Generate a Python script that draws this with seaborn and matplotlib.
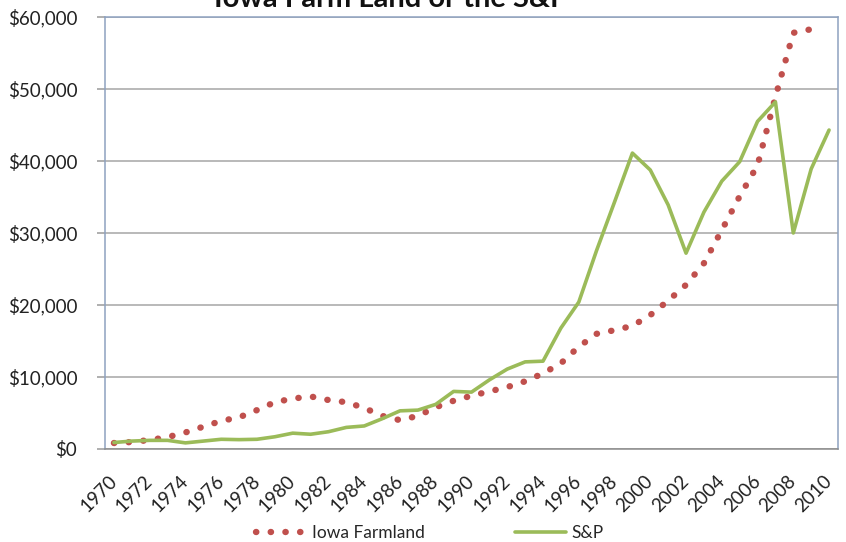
import numpy as np
import pandas as pd
import matplotlib
matplotlib.use("Agg")
import matplotlib.pyplot as plt
import seaborn as sns

# data
years = list(range(1970, 2011))
farmland = [830, 970, 1250, 1650, 2300, 3100, 3900, 4400, 5400, 6500,
            7000, 7300, 6800, 6500, 5700, 4600, 4000, 4600, 5800, 6700,
            7400, 8000, 8600, 9400, 10500, 11900, 14200, 16000, 16500, 17100,
            18600, 20600, 22800, 25800, 30400, 35100, 39400, 48900, 57800, 58300,
            np.nan]
sp500 = [900, 1100, 1200, 1200, 850, 1100, 1350, 1300, 1350, 1700,
         2200, 2050, 2400, 3000, 3200, 4200, 5300, 5400, 6200, 8000,
         7900, 9600, 11100, 12100, 12200, 16800, 20400, 27600, 34300, 41100,
         38750, 33900, 27200, 32900, 37200, 39900, 45500, 48200, 30000, 38900,
         44300]
series_names = ["Iowa Farmland", "S&P"]
title = "Iowa Farm Land or the S&P"


def main():
    df = pd.DataFrame({"year": years, "Iowa Farmland": farmland, "S&P": sp500})

    sns.set_theme(style="white")
    plt.rcParams["font.family"] = ["Lato", "DejaVu Sans"]

    fig = plt.figure(figsize=(8.46, 5.42), dpi=100)
    ax = fig.add_axes([105 / 846, 1 - 449 / 542, 733 / 846, 432 / 542])

    sns.lineplot(data=df, x="year", y="Iowa Farmland", ax=ax, color="#C0504D",
                 linewidth=4.6, linestyle=(0, (0.05, 2.25)),
                 dash_capstyle="round", label=series_names[0], legend=False)
    sns.lineplot(data=df, x="year", y="S&P", ax=ax, color="#9BBB59",
                 linewidth=2.6, label=series_names[1], legend=False)

    ax.set_xlim(1969.5, 2010.5)
    ax.set_ylim(0, 60000)
    ax.set_yticks(range(0, 60001, 10000))
    ax.set_yticklabels([f"${v:,}" for v in range(0, 60001, 10000)], fontsize=13.5,
                       color="#222222")
    ax.set_xticks(years[::2])
    ax.set_xticklabels([str(y) for y in years[::2]], rotation=45, ha="right",
                       va="center", rotation_mode="anchor", fontsize=13.5,
                       color="#222222")
    ax.set_xlabel("")
    ax.set_ylabel("")
    ax.grid(axis="y", color="#A6A6A6", linewidth=1.1)
    ax.set_axisbelow(True)
    ax.tick_params(axis="y", left=True, length=6, color="#A6A6A6", pad=14)
    ax.tick_params(axis="x", bottom=False, pad=15)
    for side in ["left", "top", "right"]:
        ax.spines[side].set_color("#8EA2C0")
        ax.spines[side].set_linewidth(1.1)
    ax.spines["bottom"].set_color("#8C8C8C")
    ax.spines["bottom"].set_linewidth(1.1)

    fig.text(0.462, 1 - 7 / 542, title, ha="center", va="baseline",
             fontsize=21, fontweight="bold", color="#111111")

    handles, labels = ax.get_legend_handles_labels()
    fig.legend(handles, labels, loc="center", bbox_to_anchor=(0.508, 1 - 533 / 542),
               ncol=2, frameon=False, fontsize=12.5, handlelength=2.9,
               columnspacing=5.2, handletextpad=0.35)

    fig.savefig("out.png", dpi=100)
    return


if __name__ == "__main__":
    main()
